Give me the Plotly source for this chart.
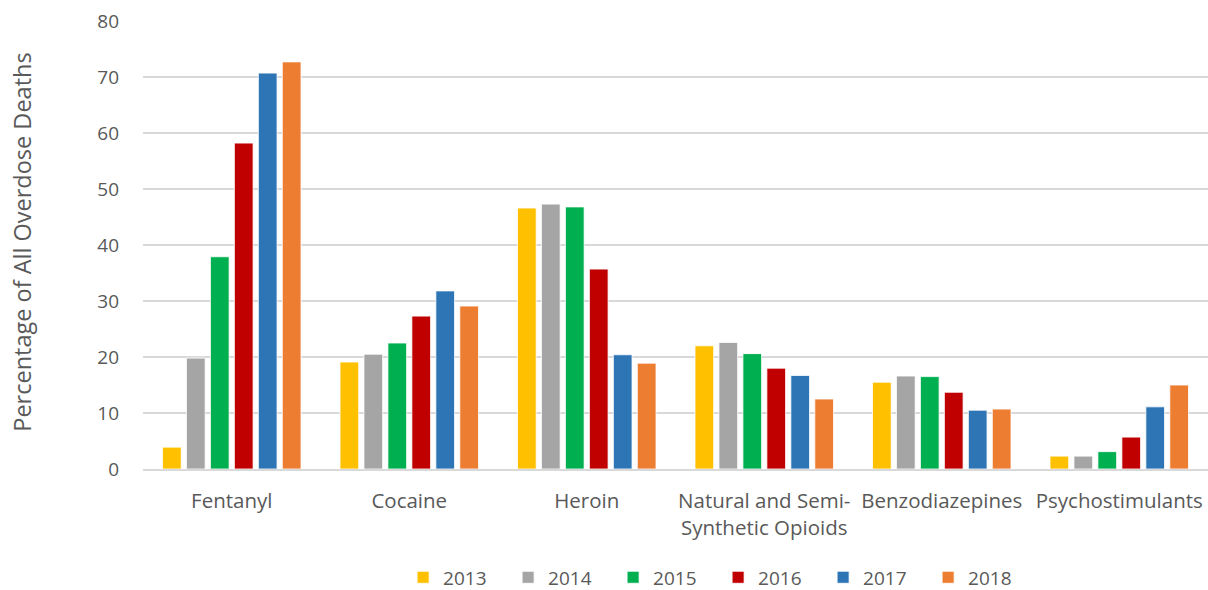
import plotly.graph_objects as go

categories = ["Fentanyl", "Cocaine", "Heroin", "Natural and Semi-<br>Synthetic Opioids",
              "Benzodiazepines", "Psychostimulants"]
years = ["2013", "2014", "2015", "2016", "2017", "2018"]
v2013 = [3.9, 19.1, 46.6, 22.0, 15.5, 2.3]
v2014 = [19.8, 20.5, 47.3, 22.6, 16.6, 2.3]
v2015 = [37.9, 22.5, 46.8, 20.6, 16.5, 3.1]
v2016 = [58.2, 27.3, 35.7, 18.0, 13.7, 5.7]
v2017 = [70.7, 31.8, 20.4, 16.7, 10.5, 11.1]
v2018 = [72.7, 29.1, 18.9, 12.5, 10.7, 15.0]
series = [v2013, v2014, v2015, v2016, v2017, v2018]
colors = ["#FFC000", "#A5A5A5", "#00B050", "#C00000", "#2E75B6", "#ED7D31"]
y_ticks = [0, 10, 20, 30, 40, 50, 60, 70, 80]
title_text = "Figure 3. Percentage of All Overdose Deaths Involving Selected Drugs, Ohio, 2013-2018)"
y_title = "Percentage of All Overdose Deaths"

FONT = "'Open Sans', sans-serif"
GRAY = "#595959"

fig = go.Figure()
for yr, vals, c in zip(years, series, colors):
    fig.add_trace(go.Bar(x=categories, y=vals, name=yr,
                         marker=dict(color=c, line=dict(color="white", width=0.8))))

fig.update_layout(
    width=1208, height=590,
    margin=dict(l=143, r=0, t=21, b=121, autoexpand=False),
    paper_bgcolor="white", plot_bgcolor="white",
    barmode="group", bargap=0.19, bargroupgap=0.22,
    font=dict(family=FONT, color=GRAY, size=18),
    showlegend=True,
    legend=dict(orientation="h", x=0.54, xanchor="center", y=-0.242, yanchor="middle",
                font=dict(size=19, color=GRAY), itemwidth=30, traceorder="normal",
                entrywidth=60, entrywidthmode="pixels"),
    xaxis=dict(showgrid=False, showline=True, linecolor="#D9D9D9", linewidth=1.5,
               ticks="", automargin=False, ticklabelstandoff=13,
               tickfont=dict(size=20.5, color=GRAY)),
    yaxis=dict(range=[0, 80], tickvals=y_ticks, showgrid=True, gridcolor="#D9D9D9",
               gridwidth=1.5, zeroline=False, ticks="", ticklabelstandoff=23,
               automargin=False, ticklabeloverflow="allow",
               tickfont=dict(size=19, color=GRAY)),
    annotations=[
        dict(text="<b>" + title_text + "</b>", xref="paper", yref="paper",
             x=0.45, y=1 + 22 / 448, xanchor="center", yanchor="bottom",
             showarrow=False,
             font=dict(family="'Liberation Serif', 'Times New Roman', serif",
                       size=21, color="#000000")),
        dict(text=y_title, xref="paper", yref="paper", x=(22 - 143) / 1065, y=0.505,
             xanchor="center", yanchor="middle", textangle=-90, showarrow=False,
             font=dict(size=23.5, color=GRAY)),
    ],
)

fig.write_html("out.html", config={"displayModeBar": False},
               post_script="document.body.style.margin='0px';")
